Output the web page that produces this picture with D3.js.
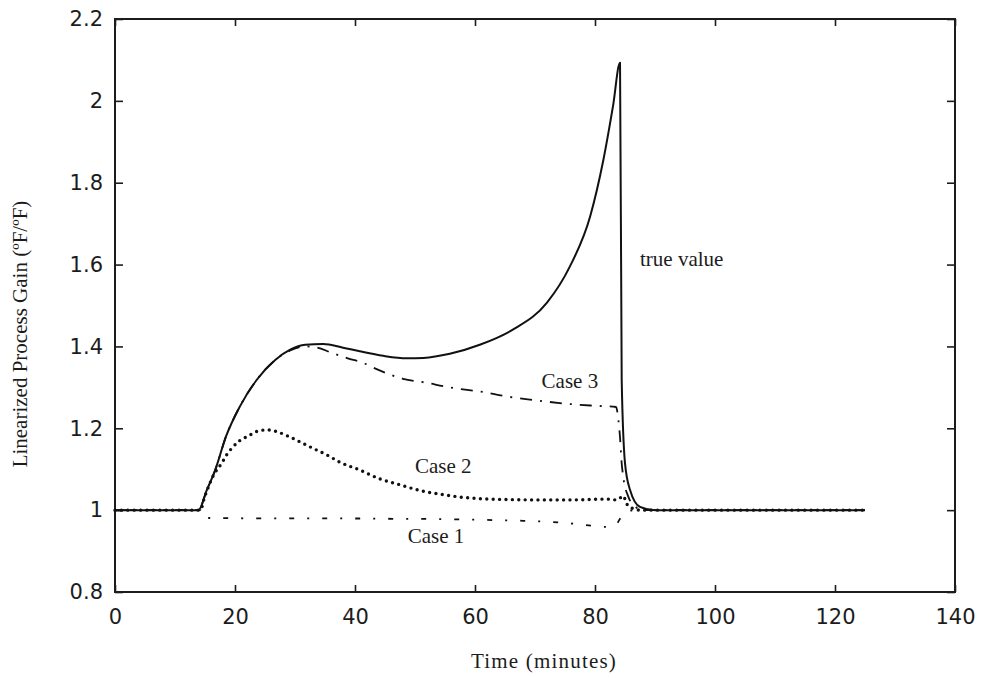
<!DOCTYPE html>
<html>
<head>
<meta charset="utf-8">
<script src="https://cdn.jsdelivr.net/npm/d3@7"></script>
<style>
  html, body { margin: 0; padding: 0; background: #fff; }
  svg { display: block; }
</style>
</head>
<body>
<svg id="chart" width="981" height="678"></svg>
<script>
// Time axis (minutes) and gain values for each estimate
const xTicks = [0, 20, 40, 60, 80, 100, 120, 140];
const yTicks = [0.8, 1, 1.2, 1.4, 1.6, 1.8, 2, 2.2];

const trueT = [0, 13.9, 15.3, 16.7, 18.5, 20.8, 23.6, 26.7, 29.2, 31.7, 34.7, 38, 40.8, 44.7, 48.6, 51.4, 55.8, 60.8, 66.3, 72, 75.8, 79.2, 81.4, 83, 84.17, 84.45, 85, 85.83, 87.5, 90, 125];
const trueV = [1, 1, 1.049, 1.098, 1.18, 1.253, 1.318, 1.367, 1.392, 1.404, 1.406, 1.397, 1.388, 1.377, 1.371, 1.372, 1.382, 1.404, 1.441, 1.507, 1.595, 1.718, 1.856, 1.987, 2.093, 1.318, 1.115, 1.05, 1.008, 1.0, 1.0];

const case3T = [0, 13.9, 15.3, 16.7, 18.5, 20.8, 23.6, 26.7, 29.2, 31.7, 33.5, 36, 38.8, 41, 44, 48, 52, 55, 58, 62, 64, 67, 72, 76, 80, 83.5, 83.9, 84.2, 84.4, 84.7, 85.55, 86.7, 88, 125];
const case3V = [1, 1, 1.049, 1.098, 1.18, 1.253, 1.318, 1.367, 1.39, 1.4, 1.398, 1.385, 1.371, 1.362, 1.342, 1.321, 1.311, 1.302, 1.295, 1.287, 1.281, 1.274, 1.265, 1.259, 1.255, 1.252, 1.22, 1.172, 1.123, 1.082, 1.033, 1.009, 1.0, 1.0];

const case2T = [0, 14.2, 15, 15.5, 16.4, 17.8, 18.6, 19.7, 20.8, 22.2, 23.6, 25.3, 26.9, 28.8, 30.8, 33, 35.3, 37.5, 40.8, 44.2, 47.5, 50.8, 54.2, 57.5, 60.8, 65, 70, 76, 82, 83.5, 84.2, 84.7, 85.3, 86, 87.5, 125];
const case2V = [1, 1, 1.035, 1.054, 1.085, 1.115, 1.135, 1.155, 1.17, 1.181, 1.192, 1.196, 1.192, 1.181, 1.167, 1.151, 1.135, 1.117, 1.098, 1.076, 1.062, 1.048, 1.039, 1.032, 1.028, 1.026, 1.025, 1.025, 1.027, 1.025, 1.03, 1.035, 1.015, 1.006, 1.0, 1.0];

const case1T = [0, 14.3, 14.7, 25, 35, 45, 55, 62, 68, 73, 77, 80, 82, 83.5, 84.4, 85.2, 86.5, 125];
const case1V = [1, 1, 0.981, 0.98, 0.98, 0.979, 0.978, 0.976, 0.974, 0.971, 0.966, 0.961, 0.959, 0.965, 0.984, 0.995, 1.0, 1.0];

const labels = [
  { text: "true value", t: 87.5, v: 1.596 },
  { text: "Case 3", t: 71.1, v: 1.298 },
  { text: "Case 2", t: 50, v: 1.091 },
  { text: "Case 1", t: 48.8, v: 0.919 }
];

const svg = d3.select("#chart");
const plotL = 115, plotR = 955, plotT = 19, plotB = 592;

const x = d3.scaleLinear().domain([0, 140]).range([plotL, plotR]);
const y = d3.scaleLinear().domain([0.8, 2.2]).range([plotB, plotT]);

const ink = "#1c1c1c";
const tickFont = "'DejaVu Sans', sans-serif";
const serif = "'Liberation Serif', 'Times New Roman', serif";

// Inward ticks on all four sides
function styleAxis(g) {
  g.select(".domain").remove();
  g.selectAll(".tick line").attr("stroke", ink).attr("stroke-width", 1.6);
}

svg.append("g").attr("transform", `translate(0,${plotB})`)
  .call(d3.axisBottom(x).tickValues(xTicks).tickSize(-7).tickPadding(17).tickFormat(d3.format("d")))
  .call(styleAxis)
  .call(g => g.selectAll("text").attr("font-family", tickFont).attr("font-size", 21).attr("fill", ink));

svg.append("g").attr("transform", `translate(0,${plotT})`)
  .call(d3.axisTop(x).tickValues(xTicks).tickSize(-7).tickFormat(""))
  .call(styleAxis);

svg.append("g").attr("transform", `translate(${plotL},0)`)
  .call(d3.axisLeft(y).tickValues(yTicks).tickSize(-8).tickPadding(12).tickFormat(d => String(+d.toFixed(1))))
  .call(styleAxis)
  .call(g => g.selectAll("text").attr("font-family", tickFont).attr("font-size", 21).attr("fill", ink));

svg.append("g").attr("transform", `translate(${plotR},0)`)
  .call(d3.axisRight(y).tickValues(yTicks).tickSize(-8).tickFormat(""))
  .call(styleAxis);

// Plot frame
svg.append("rect")
  .attr("x", plotL).attr("y", plotT)
  .attr("width", plotR - plotL).attr("height", plotB - plotT)
  .attr("fill", "none").attr("stroke", ink).attr("stroke-width", 2);

const line = d3.line()
  .x(d => x(d[0]))
  .y(d => y(d[1]))
  .curve(d3.curveMonotoneX);

const zip = (ts, vs) => ts.map((t, i) => [t, vs[i]]);

const series = [
  { data: zip(case1T, case1V), width: 1.8, dash: "2,13,5,13", cap: "butt" },
  { data: zip(case2T, case2V), width: 3.4, dash: "0,6.4", cap: "round" },
  { data: zip(case3T, case3V), width: 1.8, dash: "12,8,2,8", cap: "butt" },
  { data: zip(trueT, trueV), width: 2, dash: null, cap: "butt" }
];

svg.append("g").selectAll("path")
  .data(series)
  .join("path")
  .attr("d", d => line(d.data))
  .attr("fill", "none")
  .attr("stroke", "#111")
  .attr("stroke-width", d => d.width)
  .attr("stroke-linecap", d => d.cap)
  .attr("stroke-linejoin", "round")
  .attr("stroke-dasharray", d => d.dash);

// Curve annotations
svg.append("g").selectAll("text")
  .data(labels)
  .join("text")
  .attr("x", d => x(d.t))
  .attr("y", d => y(d.v))
  .attr("font-family", serif)
  .attr("font-size", 21)
  .attr("fill", ink)
  .text(d => d.text);

// Axis titles
svg.append("text")
  .attr("x", 544)
  .attr("y", 668)
  .attr("text-anchor", "middle")
  .attr("font-family", serif)
  .attr("font-size", 21)
  .attr("letter-spacing", 1.2)
  .attr("fill", ink)
  .text("Time (minutes)");

svg.append("text")
  .attr("transform", "translate(27,334) rotate(-90)")
  .attr("text-anchor", "middle")
  .attr("font-family", serif)
  .attr("font-size", 21)
  .attr("fill", ink)
  .text("Linearized Process Gain (ºF/ºF)");
</script>
</body>
</html>
